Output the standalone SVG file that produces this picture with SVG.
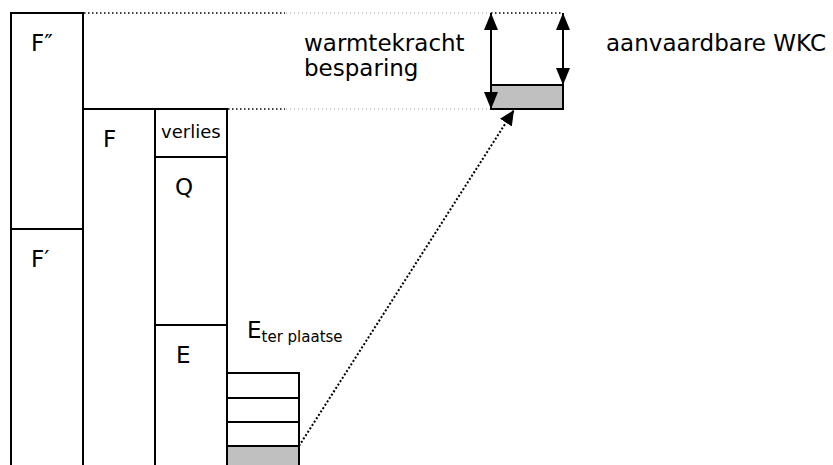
<svg xmlns="http://www.w3.org/2000/svg" width="833" height="465" viewBox="0 0 833 465">
<style>
.box{fill:#fff;stroke:#000;stroke-width:2}
.gray{fill:#c0c0c0;stroke:#000;stroke-width:2}
.t{font-family:"DejaVu Sans","Liberation Sans",sans-serif;font-size:23px;fill:#000}
.s{font-family:"DejaVu Sans","Liberation Sans",sans-serif;font-size:18px;fill:#000}
.sub{font-family:"DejaVu Sans","Liberation Sans",sans-serif;font-size:15px;fill:#000}
.dense{stroke:#000;stroke-width:1.5;stroke-dasharray:1.5 2.5;fill:none}
.sparse{stroke:#999;stroke-width:1;stroke-dasharray:1 3;fill:none}
.arr{stroke:#000;stroke-width:2;fill:none}
.diag{stroke:#000;stroke-width:2;stroke-dasharray:2 2;fill:none}
</style>
<defs>
<marker id="ah" markerUnits="userSpaceOnUse" markerWidth="18" markerHeight="14" refX="17" refY="7" orient="auto-start-reverse" viewBox="0 0 18 14">
<path d="M0,0 L17,7 L0,14 Z" fill="#000"/>
</marker>
<marker id="ah2" markerUnits="userSpaceOnUse" markerWidth="16" markerHeight="14" refX="15" refY="7" orient="auto" viewBox="0 0 16 14">
<path d="M0,0 L15,7 L0,14 Z" fill="#000"/>
</marker>
</defs>
<rect width="833" height="465" fill="#fff"/>

<g id="connectors">
<line class="dense" x1="84" y1="13" x2="285" y2="13"/>
<line class="sparse" x1="286" y1="13" x2="491" y2="13"/>
<line class="dense" x1="491" y1="13" x2="563" y2="13"/>
<line class="dense" x1="228" y1="109" x2="285" y2="109"/>
<line class="sparse" x1="286" y1="109" x2="490" y2="109"/>
<line class="diag" x1="299" y1="446" x2="514" y2="110" marker-end="url(#ah2)"/>
</g>

<g id="node-F2">
<rect class="box" x="11" y="13" width="72" height="216"/>
<text class="t" x="31" y="51">F″</text>
</g>
<g id="node-F1">
<rect class="box" x="11" y="229" width="72" height="260"/>
<text class="t" x="31" y="267">F′</text>
</g>
<g id="node-F">
<rect class="box" x="83" y="109" width="72" height="380"/>
<text class="t" x="103" y="147">F</text>
</g>
<g id="node-verlies">
<rect class="box" x="155" y="109" width="72" height="48"/>
<text class="s" x="161" y="138">verlies</text>
</g>
<g id="node-Q">
<rect class="box" x="155" y="157" width="72" height="168"/>
<text class="t" x="175" y="195">Q</text>
</g>
<g id="node-E">
<rect class="box" x="155" y="325" width="72" height="164"/>
<text class="t" x="176" y="363">E</text>
</g>
<g id="node-Eterplaatse">
<rect class="box" x="227" y="373" width="72" height="25"/>
<rect class="box" x="227" y="398" width="72" height="24"/>
<rect class="box" x="227" y="422" width="72" height="24"/>
<rect class="gray" x="227" y="446" width="72" height="40"/>
<text class="t" x="247" y="338">E<tspan class="sub" dy="4">ter plaatse</tspan></text>
</g>
<g id="node-WKC">
<rect class="gray" x="491" y="85" width="72" height="24"/>
<line class="arr" x1="491" y1="13" x2="491" y2="109" marker-start="url(#ah)" marker-end="url(#ah)"/>
<line class="arr" x1="563" y1="13" x2="563" y2="85" marker-start="url(#ah)" marker-end="url(#ah)"/>
</g>
<g id="label-warmtekracht">
<text class="t" x="304" y="51">warmtekracht</text>
<text class="t" x="304" y="76">besparing</text>
</g>
<g id="label-aanvaardbare">
<text class="t" x="606" y="51">aanvaardbare WKC</text>
</g>
</svg>
